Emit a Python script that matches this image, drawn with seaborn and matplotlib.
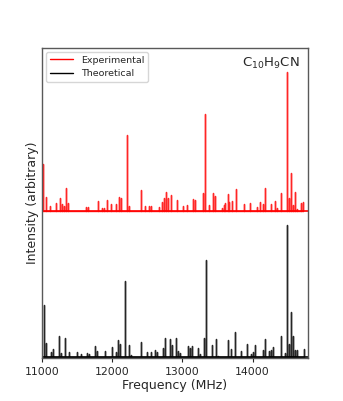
import numpy as np
import pandas as pd
import matplotlib
matplotlib.use("Agg")
import matplotlib.pyplot as plt
import seaborn as sns

# frequencias (MHz) e intensidades
freq_exp = [11014, 11053, 11114, 11195, 11253, 11281, 11310, 11339, 11371,
            11624, 11657, 11800, 11857, 11886, 11924, 11981, 12061, 12096,
            12124, 12210, 12239, 12410, 12471, 12529, 12557, 12661, 12714,
            12743, 12771, 12800, 12833, 12924, 13010, 13071, 13157, 13186,
            13296, 13324, 13386, 13443, 13471, 13562, 13590, 13614, 13643,
            13671, 13704, 13761, 13881, 13967, 14057, 14110, 14143, 14171,
            14257, 14314, 14343, 14404, 14486, 14514, 14547, 14576, 14604,
            14633, 14690, 14719]
int_exp = [47, 14, 5, 8, 13, 7, 5, 23, 8,
           4, 4, 10, 3, 3, 11, 7, 7, 14,
           13, 76, 5, 21, 5, 5, 5, 4, 9,
           13, 19, 13, 16, 11, 5, 6, 12, 11,
           18, 97, 6, 18, 15, 3, 6, 8, 17,
           9, 10, 22, 7, 8, 4, 9, 7, 23,
           7, 10, 3, 18, 139, 13, 38, 6, 19,
           2, 8, 9]

freq_teo = [11033, 11061, 11124, 11153, 11239, 11267, 11329, 11386, 11500,
            11561, 11647, 11676, 11761, 11790, 11904, 11996, 12053, 12081,
            12110, 12186, 12243, 12271, 12410, 12500, 12557, 12614, 12643,
            12729, 12757, 12819, 12847, 12904, 12933, 12961, 13081, 13110,
            13139, 13224, 13253, 13310, 13339, 13429, 13486, 13514, 13657,
            13686, 13747, 13833, 13919, 13976, 14004, 14033, 14151, 14180,
            14237, 14266, 14294, 14410, 14461, 14490, 14519, 14547, 14580,
            14609, 14637, 14733]
int_teo = [52, 14, 5, 8, 21, 4, 19, 5, 5,
           3, 4, 3, 11, 6, 6, 10, 5, 17,
           13, 76, 12, 2, 15, 5, 5, 7, 5,
           9, 19, 18, 12, 19, 6, 4, 11, 9,
           11, 9, 3, 19, 97, 12, 18, 1, 17,
           8, 25, 6, 13, 3, 5, 12, 7, 18,
           6, 7, 10, 21, 4, 132, 13, 45, 21,
           7, 7, 8]

deslocamento = 1.11  # offset vertical do espectro experimental


def espectro_barras(freqs, ints, base):
    # monta o tracado em forma de barras (0 -> pico -> 0)
    x = np.repeat(freqs, 3)
    y = np.zeros(len(x)) + base
    y[1::3] = base + np.asarray(ints)
    return pd.DataFrame({"x": x, "y": y})


sns.set_style("white")
plt.rcParams["font.family"] = ["DejaVu Sans"]

fig = plt.figure(figsize=(3.43, 4.01), dpi=100)
ax = fig.add_axes([0.1224, 0.107, 0.7756, 0.773])

exp = np.asarray(int_exp, dtype=float)
teo = np.asarray(int_teo, dtype=float)
df_exp = espectro_barras(freq_exp, exp / teo.max(), deslocamento)
df_teo = espectro_barras(freq_teo, teo / teo.max(), 0.0)

sns.lineplot(data=df_exp, x="x", y="y", sort=False, estimator=None,
             color="red", lw=1.0, alpha=0.85, ax=ax, label="Experimental")
sns.lineplot(data=df_teo, x="x", y="y", sort=False, estimator=None,
             color="black", lw=1.0, alpha=0.85, ax=ax, label="Theoretical")
ax.axhline(deslocamento, color="red", lw=1.2)
ax.axhline(0, color="black", lw=1.2)

ax.set_xlim(11000, 14790)
ax.set_ylim(-0.005, 2.34)
ax.set_xticks([11000, 12000, 13000, 14000])
ax.set_yticks([])
ax.tick_params(axis="x", labelsize=7.8, length=3, direction="out", bottom=True)
ax.set_xlabel("Frequency (MHz)", fontsize=9, labelpad=1)
ax.set_ylabel("Intensity (arbitrary)", fontsize=9, labelpad=2)

for s in ax.spines.values():
    s.set_color("0.35")
    s.set_linewidth(1.0)

leg = ax.legend(loc="upper left", fontsize=6.8, frameon=True, borderaxespad=0.4,
                handlelength=2.5)
for h in leg.get_lines():
    h.set_alpha(1)
ax.text(0.97, 0.975, r"C$_{10}$H$_9$CN", transform=ax.transAxes,
        ha="right", va="top", fontsize=9.5)

fig.savefig("out.png", dpi=100)
